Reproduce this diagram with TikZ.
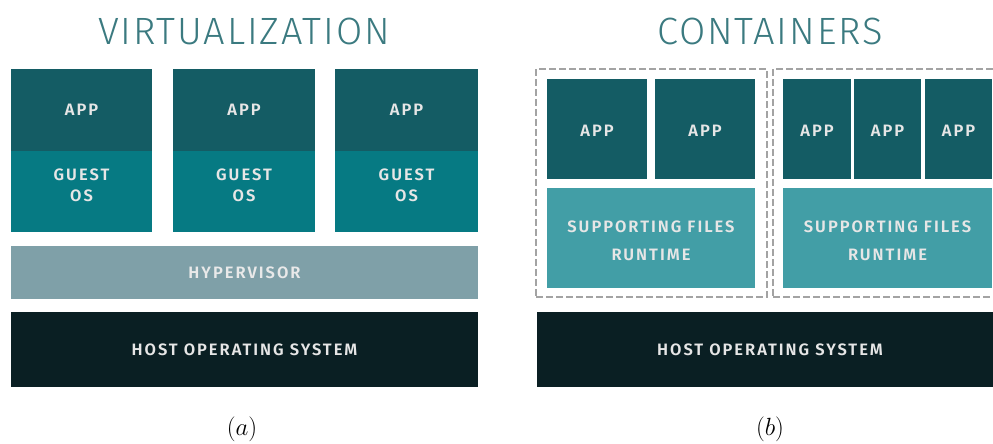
\documentclass[tikz,border=0pt]{standalone}
\usepackage{fontspec}
\newfontfamily\labelfont[LetterSpace=12]{Fira Sans SemiBold}
\newfontfamily\titlefont[LetterSpace=5]{Fira Sans Light}
\definecolor{appc}{HTML}{145C64}
\definecolor{guestc}{HTML}{067A83}
\definecolor{hyperc}{HTML}{7FA0A8}
\definecolor{hostc}{HTML}{0A1F23}
\definecolor{suppc}{HTML}{429EA6}
\definecolor{lblc}{HTML}{E6E6E6}
\definecolor{titlec}{HTML}{3B7A80}
\definecolor{dashc}{HTML}{A3A3A3}
\begin{document}
\begin{tikzpicture}[x=1pt,y=-1pt,
  blk/.style={inner sep=0pt, outer sep=0pt, anchor=north west},
  lbl/.style={inner sep=0pt, text=lblc, align=center,
    font=\labelfont\fontsize{16.5}{21}\selectfont},
  cont/.style={inner sep=0pt, outer sep=0pt, anchor=north west, draw=dashc,
    line width=2pt, dash pattern=on 7pt off 3pt},
  ttl/.style={text=titlec, font=\titlefont\fontsize{38}{44}\selectfont, inner sep=0pt},
  capt/.style={font=\fontsize{32}{36}\selectfont, inner sep=0pt}]
\useasboundingbox (0,0) rectangle (993,444);
\clip (0,0) rectangle (993,444);

% ---- virtualization stack ----
\node[ttl] (tv) at (244,31) {VIRTUALIZATION};

\node[blk, fill=appc, minimum width=141pt, minimum height=82pt] (app1) at (11,69) {};
\node[blk, fill=guestc, minimum width=141pt, minimum height=81pt] (gos1) at (11,151) {};
\node[blk, fill=appc, minimum width=142pt, minimum height=82pt] (app2) at (173,69) {};
\node[blk, fill=guestc, minimum width=142pt, minimum height=81pt] (gos2) at (173,151) {};
\node[blk, fill=appc, minimum width=143pt, minimum height=82pt] (app3) at (335,69) {};
\node[blk, fill=guestc, minimum width=143pt, minimum height=81pt] (gos3) at (335,151) {};

\foreach \b in {1,2,3} {
  \node[lbl] (app\b t) at (app\b.center) {APP};
  \node[lbl, yshift=6pt] (gos\b t) at (gos\b.center) {GUEST\\OS};
}

\node[blk, fill=hyperc, minimum width=467pt, minimum height=53pt] (hyp) at (11,246) {};
\node[lbl, text=lblc!90!white] (hypt) at (hyp.center) {HYPERVISOR};
\node[blk, fill=hostc, minimum width=467pt, minimum height=75pt] (hosta) at (11,312) {};
\node[lbl] (hostat) at (hosta.center) {HOST OPERATING SYSTEM};

\node[capt] (capa) at (242,429) {$(a)$};

% ---- container stack ----
\node[ttl] (tc) at (770,31) {CONTAINERS};

\node[cont, minimum width=231pt, minimum height=228pt] (c1) at (536,69) {};
\node[cont, minimum width=231pt, minimum height=228pt] (c2) at (773,69) {};

\node[blk, fill=appc, minimum width=100pt, minimum height=100pt] (ca1) at (547,79) {};
\node[blk, fill=appc, minimum width=100pt, minimum height=100pt] (ca2) at (655,79) {};
\node[blk, fill=suppc, minimum width=208pt, minimum height=100pt] (sf1) at (547,188) {};

\node[blk, fill=appc, minimum width=68pt, minimum height=100pt] (ca3) at (783,79) {};
\node[blk, fill=appc, minimum width=67pt, minimum height=100pt] (ca4) at (854,79) {};
\node[blk, fill=appc, minimum width=67pt, minimum height=100pt] (ca5) at (925,79) {};
\node[blk, fill=suppc, minimum width=209pt, minimum height=100pt] (sf2) at (783,188) {};

\foreach \b in {1,...,5} {
  \node[lbl, yshift=-2pt] (ca\b t) at (ca\b.center) {APP};
}
\node[lbl, yshift=-3pt] (sf1t) at (sf1.center) {SUPPORTING FILES\\[7pt]RUNTIME};
\node[lbl, yshift=-3pt] (sf2t) at (sf2.center) {SUPPORTING FILES\\[7pt]RUNTIME};

\node[blk, fill=hostc, minimum width=467pt, minimum height=75pt] (hostb) at (537,312) {};
\node[lbl] (hostbt) at (770,349.5) {HOST OPERATING SYSTEM};

\node[capt] (capb) at (770,429) {$(b)$};
\end{tikzpicture}
\end{document}
